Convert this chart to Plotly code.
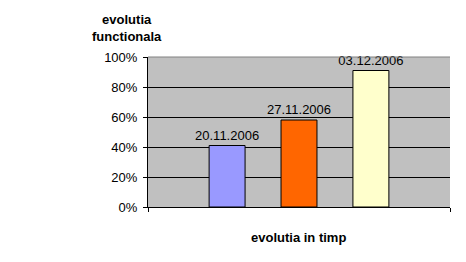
import plotly.graph_objects as go

dates = ["20.11.2006", "27.11.2006", "03.12.2006"]
values = [0.41, 0.58, 0.91]
colors = ["#9999FF", "#FF6600", "#FFFFCC"]
y_ticks = [0, 0.2, 0.4, 0.6, 0.8, 1.0]
y_labels = ["0%", "20%", "40%", "60%", "80%", "100%"]

FONT = "Arial, Liberation Sans, sans-serif"
x_pos = list(range(len(dates)))

fig = go.Figure()
fig.add_trace(go.Bar(
    x=x_pos, y=values, width=0.5,
    marker=dict(color=colors, line=dict(color="black", width=1)),
    text=dates, textposition="outside", cliponaxis=False, constraintext="none",
    textfont=dict(family=FONT, size=13, color="black"),
    hoverinfo="skip",
))

fig.update_layout(
    width=466, height=262,
    margin=dict(l=148, r=16, t=57, b=55),
    paper_bgcolor="white", plot_bgcolor="#C0C0C0",
    showlegend=False,
    font=dict(family=FONT, size=13, color="black"),
    xaxis=dict(range=[-1.1, 3.1], showgrid=False, zeroline=False,
               showline=True, linecolor="black", linewidth=1,
               tickvals=[-1.1, 3.1], ticktext=["", ""],
               ticks="outside", ticklen=4, tickcolor="black", fixedrange=True),
    yaxis=dict(range=[0, 1], tickvals=y_ticks, ticktext=y_labels,
               showgrid=True, gridcolor="black", gridwidth=1,
               zeroline=False, showline=True, linecolor="black", linewidth=1,
               ticks="outside", ticklen=4, tickcolor="black",
               ticklabelstandoff=3,
               tickfont=dict(family=FONT, size=13, color="black"), fixedrange=True),
    shapes=[dict(type="line", xref="paper", yref="paper", x0=0, x1=1, y0=1, y1=1,
                 line=dict(color="#808080", width=1))],
    annotations=[
        dict(text="<b>evolutia<br>functionala</b>", xref="paper", yref="paper",
             x=-0.0695, y=1.193, xanchor="center", yanchor="middle", showarrow=False,
             font=dict(family=FONT, size=13, color="black")),
        dict(text="<b>evolutia in timp</b>", xref="paper", yref="paper",
             x=0.497, y=-0.2, xanchor="center", yanchor="middle", showarrow=False,
             font=dict(family=FONT, size=13, color="black")),
    ],
)

fig.write_html("out.html")
